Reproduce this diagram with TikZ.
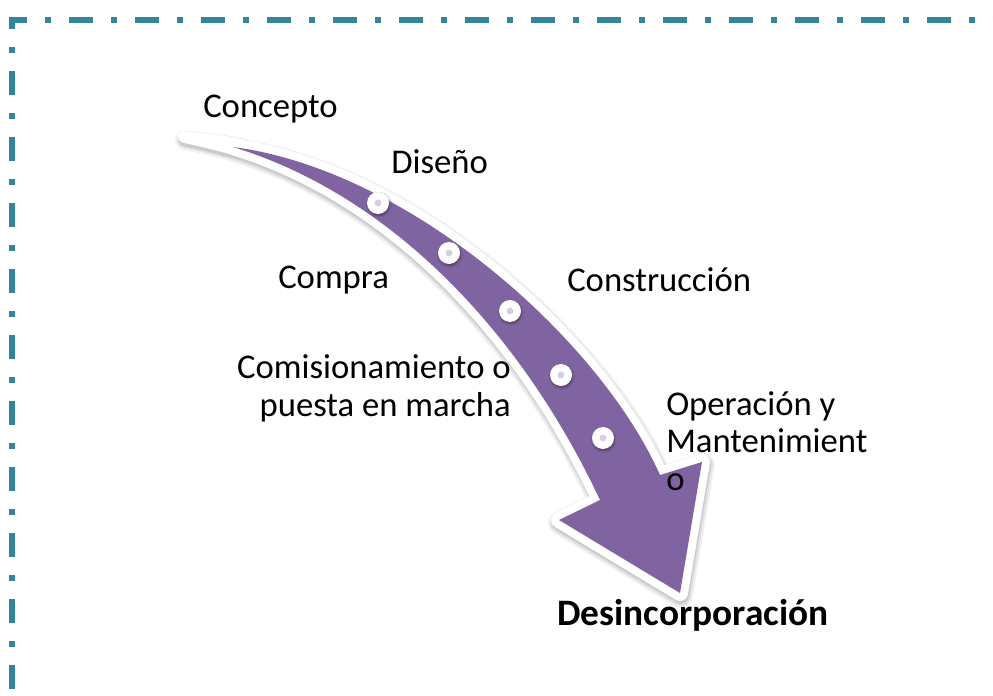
\documentclass[tikz,border=0pt]{standalone}
\usepackage{fontspec}
\setmainfont{Carlito}
\usetikzlibrary{shadows.blur}
\definecolor{bordercol}{RGB}{49,133,156}
\definecolor{arrowpurple}{RGB}{128,100,162}
\definecolor{dotin}{RGB}{212,206,226}
\newcommand\arrowshape{(233,147) .. controls (410,170) and (600,340) .. (660,475) -- (702,462) -- (680,593) -- (559,520) -- (600,500) .. controls (520,330) and (390,195) .. (233,147) -- cycle}
\newcommand\tailshape{(181,132) .. controls (200,132) and (222,135) .. (245,140) -- (250,159) .. controls (225,153) and (200,146) .. (184,143) .. controls (177,142) and (176,133) .. (181,132) -- cycle}
\begin{document}
\begin{tikzpicture}[x=0.75pt,y=-0.75pt,
  lbl/.style={font=\fontsize{26}{30}\selectfont, inner sep=0pt, anchor=base west},
  lblr/.style={lbl, anchor=base east},
  stagedot/.style={circle, fill=white, minimum size=16.5pt, inner sep=0pt,
    blur shadow={shadow xshift=0.6pt, shadow yshift=-1.4pt, shadow blur steps=4, shadow opacity=35, shadow blur radius=1.2pt}}]
\useasboundingbox (0,0) rectangle (993,696);
\fill[white] (0,0) rectangle (993,696);
% border
\draw[bordercol, line width=4.5pt, dash pattern=on 18pt off 13.5pt on 4.5pt off 13.5pt, dash phase=41.25pt]
  (11.7,700) -- (11.7,20) -- (1010,20);
% arrow shadow
\foreach \w/\o in {24/0.05, 20/0.07, 16/0.09}{
  \begin{scope}[transparency group, opacity=\o, shift={(1,3)}]
    \path[fill=black, draw=black, line width=\w*0.75pt, line join=round] \arrowshape;
    \path[fill=black, draw=black, line width=(\w-16)*0.75pt, line join=round] \tailshape;
  \end{scope}
}
% white outline
\path[fill=white, draw=white, line width=12pt, line join=round] \arrowshape;
\fill[white] \tailshape;
% purple body
\fill[arrowpurple] \arrowshape;
% dots
\node[stagedot] (d1) at (378,203) {};
\node[stagedot] (d2) at (449,253) {};
\node[stagedot] (d3) at (510,311) {};
\node[stagedot] (d4) at (561,375) {};
\node[stagedot] (d5) at (603,438) {};
\foreach \n in {d1,d2,d3,d4,d5}{\fill[dotin] (\n) circle (3.4);}
% labels
\node[lbl] (concepto) at (203,117) {Concepto};
\node[lbl] (diseno) at (391,173) {Diseño};
\node[lbl] (compra) at (278,288) {Compra};
\node[lbl] (construccion) at (567,291) {Construcción};
\node[lblr] (comis1) at (511,378) {Comisionamiento o};
\node[lblr] (comis2) at (511,416) {puesta en marcha};
\node[lbl] (oper1) at (666,415) {Operación y};
\node[lbl] (oper2) at (666,452) {Mantenimient};
\node[lbl] (oper3) at (666,490) {o};
\node[lbl, font=\fontsize{28}{32}\selectfont\bfseries] (desinc) at (557,625) {Desincorporación};
\end{tikzpicture}
\end{document}
